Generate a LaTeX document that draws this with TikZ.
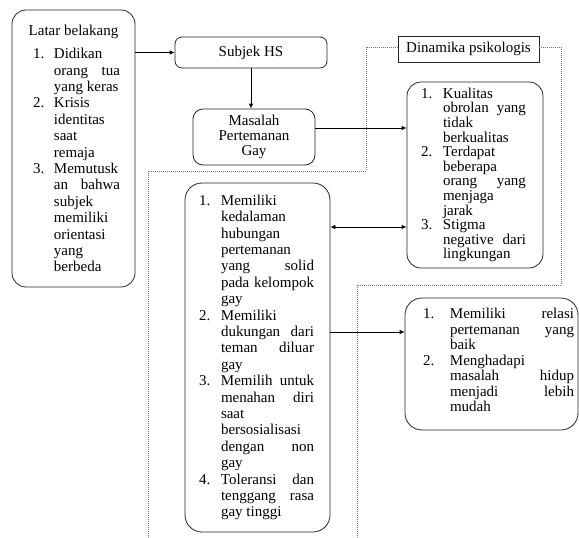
\documentclass[tikz,border=0pt]{standalone}
\usepackage{fontspec}
\setmainfont{Liberation Serif}
\usetikzlibrary{arrows.meta}
\newlength\hangw
\newcommand{\itm}[2]{\par\noindent\hangindent=\hangw\hangafter=1\makebox[\hangw][l]{#1}#2\par}
\newcommand{\listsetup}[3]{\leftskip=#1\relax\setlength\hangw{#2}\rightskip=#3\relax\parfillskip=0pt plus 1fil\relax\hyphenpenalty=10000\relax\tolerance=10000\relax\hbadness=10000\relax}
\begin{document}
\begin{tikzpicture}[x=1pt,y=-1pt,
  rbox/.style={draw=black!85, line width=0.8pt, rounded corners=#1, inner sep=0pt},
  arr/.style={-{Latex[length=5pt,width=4.5pt]}, line width=0.8pt},
  darr/.style={{Latex[length=5pt,width=4.5pt]}-{Latex[length=5pt,width=4.5pt]}, line width=0.8pt},
  dotl/.style={draw=black!55, line width=0.6pt, dash pattern=on 1pt off 1pt},
  font=\fontsize{15}{16.4}\selectfont]
\useasboundingbox (0,0) rectangle (579,538);

% Latar belakang
\node[rbox=14pt, minimum width=123pt, minimum height=277pt] (latar) at (73.5,148.5) {%
\begin{minipage}{123pt}
{\centering Latar belakang\par}
\vspace{7pt}
\listsetup{21pt}{21pt}{15pt}
\itm{1.}{Didikan\\ orang~tua\linebreak yang keras}
\itm{2.}{Krisis\\ identitas\\ saat\\ remaja}
\itm{3.}{Memutusk\\ an~bahwa\linebreak subjek\\ memiliki\\ orientasi\\ yang\\ berbeda}
\end{minipage}};

% Subjek HS
\node[rbox=7pt, minimum width=152pt, minimum height=31pt] (subjek) at (251,52.5) {Subjek HS};

% Masalah
\node[rbox=10pt, minimum width=122pt, minimum height=56pt, align=center,
  font=\fontsize{15}{15}\selectfont] (masalah) at (254,137) {Masalah\\Pertemanan\\Gay};

% Dinamika psikologis label
\node[draw=black!85, line width=0.8pt, minimum width=141pt, minimum height=26pt, inner sep=0pt] (dinamika) at (468.5,49) {Dinamika psikologis};

% Kualitas box
\node[rbox=14pt, minimum width=136pt, minimum height=186pt,
  font=\fontsize{15}{14.6}\selectfont] (kualitas) at (475,175) {%
\begin{minipage}{136pt}
\listsetup{14pt}{22pt}{17pt}
\itm{1.}{Kualitas\\ obrolan~yang\linebreak tidak\\ berkualitas}
\itm{2.}{Terdapat\\ beberapa\\ orang~yang\linebreak menjaga\\ jarak}
\itm{3.}{Stigma\\ negative~dari\linebreak lingkungan}
\end{minipage}};

% Memiliki box
\node[rbox=17pt, minimum width=145pt, minimum height=349pt] (memiliki) at (257.5,357.5) {%
\begin{minipage}{145pt}
\listsetup{14pt}{22pt}{16pt}
\itm{1.}{Memiliki\\ kedalaman\\ hubungan\\ pertemanan\\ yang~solid\linebreak pada~kelompok\linebreak gay}
\itm{2.}{Memiliki\\ dukungan~dari\linebreak teman~diluar\linebreak gay}
\itm{3.}{Memilih~untuk\linebreak menahan~diri\linebreak saat\\ bersosialisasi\\ dengan~non\linebreak gay}
\itm{4.}{Toleransi~dan\linebreak tenggang~rasa\linebreak gay~tinggi}
\end{minipage}};

% Result box
\node[rbox=17pt, minimum width=173pt, minimum height=132pt,
  font=\fontsize{15}{15.5}\selectfont] (result) at (491.5,364) {%
\begin{minipage}{173pt}
\listsetup{18pt}{27pt}{4pt}
\itm{1.}{Memiliki~relasi\linebreak pertemanan~yang\linebreak baik}
\itm{2.}{Menghadapi\\ masalah~hidup\linebreak menjadi~lebih\linebreak mudah}
\vspace*{8pt}
\end{minipage}};

% dotted boundary
\draw[dotl] ([yshift=2pt]dinamika.west) -| (366,171) -| (148,538);
\draw[dotl] ([yshift=2pt]dinamika.east) -| (561,285) -| (357,538);

% connectors
\draw[arr] (subjek.west -| latar.east) -- (subjek.west);
\draw[arr] (subjek.south) -- (subjek.south |- masalah.north);
\draw[arr] ([yshift=9pt]masalah.east) -- ([yshift=9pt]masalah.east -| kualitas.west);
\draw[darr] ([yshift=-52pt]kualitas.west -| memiliki.east) -- ([yshift=-52pt]kualitas.west);
\draw[arr] ([yshift=32pt]result.west -| memiliki.east) -- ([yshift=32pt]result.west);
\end{tikzpicture}
\end{document}
